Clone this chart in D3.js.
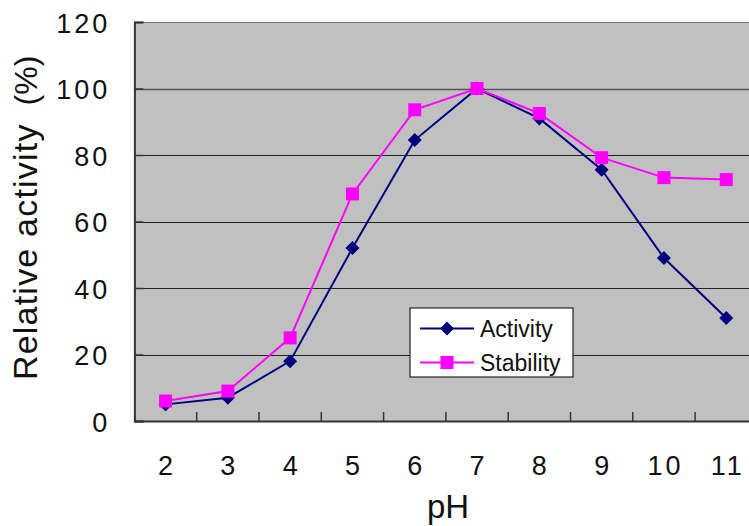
<!DOCTYPE html>
<html>
<head>
<meta charset="utf-8">
<script src="https://cdn.jsdelivr.net/npm/d3@7"></script>
<style>
  html, body { margin: 0; padding: 0; background: #fff; }
  svg { display: block; font-family: "Liberation Sans", Arial, sans-serif; }
</style>
</head>
<body>
<svg id="chart" width="749" height="526"></svg>
<script>
// pH values along the category axis
const categories = ["2", "3", "4", "5", "6", "7", "8", "9", "10", "11"];
// Relative activity (%) at each pH
const activity = [5, 7, 18, 52, 84.5, 100, 91, 75.6, 49, 31];
// Residual activity after incubation (%) at each pH
const stability = [6, 9, 25, 68.3, 93.6, 100, 92.5, 79.2, 73.2, 72.6];
const yTicks = [0, 20, 40, 60, 80, 100, 120];

const svg = d3.select("#chart");
const plot = { left: 134.4, right: 757.4, top: 22, bottom: 421 };

const x = d3.scaleBand().domain(categories).range([plot.left, plot.right]).padding(0);
const y = d3.scaleLinear().domain([0, 120]).range([plot.bottom, plot.top]);

// plot area
svg.append("rect")
  .attr("x", plot.left).attr("y", plot.top)
  .attr("width", plot.right - plot.left).attr("height", plot.bottom - plot.top)
  .attr("fill", "#c0c0c0");

// horizontal gridlines
svg.append("g").selectAll("line").data(yTicks.filter(d => d > 0)).join("line")
  .attr("x1", plot.left).attr("x2", plot.right)
  .attr("y1", d => Math.round(y(d)) + 0.5).attr("y2", d => Math.round(y(d)) + 0.5)
  .attr("stroke", d => d === 120 ? "#7a7a7a" : (d === 100 ? "#555" : "#222"))
  .attr("stroke-width", d => d === 100 ? 1.6 : 1.2);

// y axis
const yAxis = svg.append("g")
  .attr("transform", `translate(${plot.left},0)`)
  .call(d3.axisLeft(y).tickValues(yTicks).tickSize(-9).tickPadding(24));
yAxis.select(".domain").attr("stroke", "#333").attr("stroke-width", 2);
yAxis.selectAll(".tick line").attr("stroke", "#333").attr("stroke-width", 1.5);
yAxis.selectAll("text")
  .attr("font-size", 27).attr("fill", "#111")
  .attr("letter-spacing", 3).attr("dy", "0.38em");

// x axis with ticks between categories
const xAxis = svg.append("g")
  .attr("transform", `translate(0,${plot.bottom})`)
  .call(d3.axisBottom(x).tickSize(0).tickPadding(35));
xAxis.select(".domain").attr("stroke", "#333").attr("stroke-width", 2);
xAxis.selectAll("text")
  .attr("font-size", 27).attr("fill", "#111")
  .attr("letter-spacing", 3).attr("dx", 1.5);
svg.append("g").selectAll("line").data(categories.slice(1)).join("line")
  .attr("x1", d => x(d)).attr("x2", d => x(d))
  .attr("y1", plot.bottom).attr("y2", plot.bottom - 9)
  .attr("stroke", "#333").attr("stroke-width", 1.5);

// axis titles
const yTitle = svg.append("text")
  .attr("transform", "translate(37,380) rotate(-90)")
  .attr("text-anchor", "start")
  .attr("font-size", 34).attr("fill", "#111");
yTitle.append("tspan").attr("letter-spacing", 1.2).text("Relative activity");
yTitle.append("tspan").attr("dx", 18).attr("font-size", 32).text("(%)");

svg.append("text")
  .attr("x", 448).attr("y", 518)
  .attr("text-anchor", "middle")
  .attr("font-size", 33).attr("fill", "#111")
  .text("pH");

const cx = d => x(d) + x.bandwidth() / 2;
const line = d3.line().x((d, i) => cx(categories[i])).y(d => y(d));

const series = [
  { name: "Activity", values: activity, color: "#000080", shape: "diamond" },
  { name: "Stability", values: stability, color: "#ff00ff", shape: "square" }
];

function drawMarker(g, shape, color, px, py) {
  if (shape === "diamond") {
    g.append("path")
      .attr("d", `M${px},${py - 7}L${px + 7},${py}L${px},${py + 7}L${px - 7},${py}Z`)
      .attr("fill", color);
  } else {
    g.append("rect")
      .attr("x", px - 6.5).attr("y", py - 6.5)
      .attr("width", 13).attr("height", 13)
      .attr("fill", color);
  }
}

series.forEach(s => {
  const g = svg.append("g");
  g.append("path")
    .datum(s.values)
    .attr("d", line)
    .attr("fill", "none")
    .attr("stroke", s.color)
    .attr("stroke-width", 2);
  s.values.forEach((v, i) => drawMarker(g, s.shape, s.color, cx(categories[i]), y(v)));
});

// legend
const lg = svg.append("g").attr("transform", "translate(410,308)");
lg.append("rect")
  .attr("width", 163).attr("height", 69)
  .attr("fill", "#fff").attr("stroke", "#222").attr("stroke-width", 1.2);
series.forEach((s, i) => {
  const ly = 20.5 + i * 34;
  lg.append("line")
    .attr("x1", 10).attr("x2", 64).attr("y1", ly).attr("y2", ly)
    .attr("stroke", s.color).attr("stroke-width", 2);
  drawMarker(lg, s.shape, s.color, 37, ly);
  lg.append("text")
    .attr("x", 70).attr("y", ly + 8.5)
    .attr("font-size", 23).attr("fill", "#111")
    .text(s.name);
});
</script>
</body>
</html>
